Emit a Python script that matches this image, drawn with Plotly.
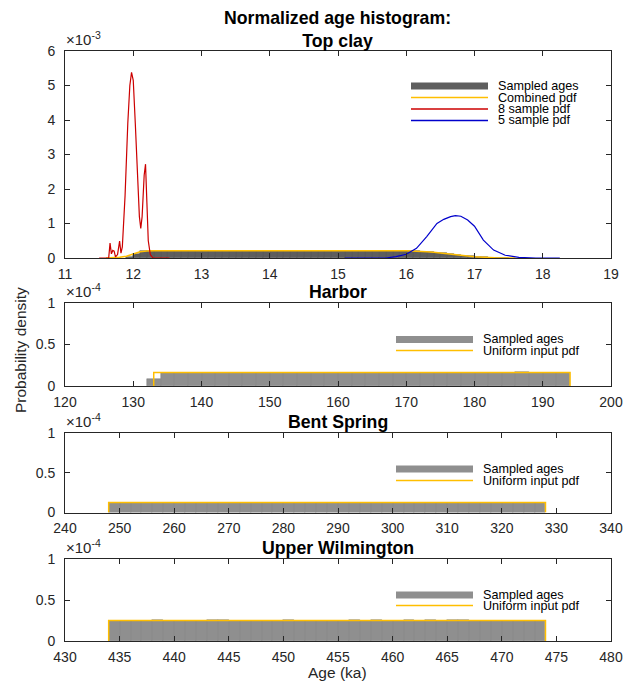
import plotly.graph_objects as go

W, H = 625, 683

# ---------------- Data ----------------
# Top clay: histogram of sampled ages (density, x1e-3 per yr), 0.1 ka bins
tc_bin_start = 11.9
tc_bin_width = 0.1
tc_hist = [0.03, 0.13, 0.19, 0.21,
           0.211, 0.209, 0.212, 0.210, 0.208, 0.211, 0.210, 0.209, 0.212, 0.210,
           0.208, 0.211, 0.210, 0.212, 0.209, 0.210, 0.211, 0.208, 0.210, 0.212,
           0.209, 0.211, 0.210, 0.208, 0.212, 0.210, 0.209, 0.211, 0.210, 0.212,
           0.208, 0.210, 0.211, 0.209, 0.210, 0.212, 0.209,
           0.205, 0.198, 0.188, 0.172, 0.153, 0.133, 0.113, 0.092, 0.070, 0.050,
           0.032, 0.020, 0.011, 0.006, 0.003]

tc_comb_x = [11.60, 11.70, 11.80, 11.90, 12.00, 12.10, 12.20, 12.30, 16.00, 16.10, 16.20,
             16.30, 16.40, 16.50, 16.60, 16.70, 16.80, 16.90, 17.00, 17.10, 17.20, 17.30,
             17.40, 17.60]
tc_comb_y = [0.0, 0.005, 0.02, 0.05, 0.12, 0.18, 0.205, 0.21, 0.21, 0.205, 0.195,
             0.18, 0.165, 0.148, 0.128, 0.105, 0.082, 0.060, 0.038, 0.022, 0.012, 0.006,
             0.003, 0.0]

tc_red_x = [11.50, 11.64, 11.66, 11.68, 11.70, 11.72, 11.74, 11.77, 11.80, 11.82, 11.84,
            11.88, 11.92, 11.95, 11.975, 12.00, 12.03, 12.06, 12.09, 12.11, 12.13, 12.16,
            12.18, 12.20, 12.22, 12.25, 12.29, 12.53]
tc_red_y = [0.0, 0.0, 0.43, 0.12, 0.22, 0.20, 0.03, 0.10, 0.49, 0.14, 0.32,
            1.8, 3.9, 5.0, 5.38, 5.15, 3.9, 2.4, 1.2, 0.86, 1.2, 2.4,
            2.72, 1.6, 0.5, 0.1, 0.0, 0.0]

tc_blue_x = [15.10, 15.70, 15.85, 16.00, 16.15, 16.30, 16.45, 16.55, 16.65, 16.72, 16.80,
             16.90, 17.00, 17.13, 17.28, 17.45, 17.65, 17.90, 18.25]
tc_blue_y = [0.0, 0.0, 0.04, 0.11, 0.28, 0.62, 1.0, 1.12, 1.20, 1.23, 1.21,
             1.10, 0.92, 0.52, 0.23, 0.08, 0.02, 0.0, 0.0]

# Harbor (x1e-4), 2 ka bins
hb_bin_start = 132
hb_bin_width = 2
hb_hist = [0.08, 0.160, 0.158, 0.161, 0.159, 0.160, 0.162, 0.158, 0.160, 0.161,
           0.159, 0.160, 0.158, 0.161, 0.160, 0.159, 0.162, 0.160, 0.158, 0.161,
           0.160, 0.159, 0.161, 0.160, 0.158, 0.160, 0.161, 0.166, 0.159, 0.160, 0.161]
hb_pdf_x = [133, 133, 194, 194]
hb_pdf_y = [0, 0.164, 0.164, 0]

# Bent Spring (x1e-4), 2 ka bins
bs_bin_start = 248
bs_bin_width = 2
bs_hist = [0.124, 0.123, 0.124, 0.124, 0.122, 0.124, 0.124, 0.123, 0.124, 0.124,
           0.123, 0.124, 0.124, 0.122, 0.124, 0.123, 0.124, 0.124, 0.123, 0.124,
           0.124, 0.124, 0.123, 0.124, 0.124, 0.122, 0.124, 0.123, 0.124, 0.124,
           0.123, 0.124, 0.124, 0.123, 0.124, 0.122, 0.124, 0.124, 0.123, 0.124]
bs_pdf_x = [248, 248, 328, 328]
bs_pdf_y = [0, 0.125, 0.125, 0]

# Upper Wilmington (x1e-4), 1 ka bins
uw_bin_start = 434
uw_bin_width = 1
uw_hist = [0.250, 0.248, 0.249, 0.247, 0.251, 0.249, 0.250, 0.248, 0.249, 0.258,
           0.259, 0.250, 0.245, 0.249, 0.250, 0.248, 0.251, 0.249, 0.247, 0.250,
           0.249, 0.250, 0.256, 0.249, 0.251, 0.248, 0.250, 0.258, 0.249, 0.255,
           0.250, 0.256, 0.251, 0.248, 0.250, 0.249, 0.247, 0.250, 0.249, 0.250]
uw_pdf_x = [434, 434, 474, 474]
uw_pdf_y = [0, 0.25, 0.25, 0]

titles = ["Normalized age histogram:<br>Top clay", "Harbor", "Bent Spring", "Upper Wilmington"]
x_ranges = [(11, 19), (120, 200), (240, 340), (430, 480)]
x_dticks = [1, 10, 10, 5]
top_y_ticks = [0, 1, 2, 3, 4, 5, 6]
low_y_ticks = [0, 0.5, 1]

# ---------------- Styling ----------------
AX = '#262626'
ORANGE = '#FFBE00'
RED = '#CC0000'
BLUE = '#0000CC'
DARK_BAR = '#5e5e5e'
DARK_EDGE = '#474747'
LIGHT_BAR = '#8f8f8f'
LIGHT_EDGE = '#7d7d7d'
FONT = 'Liberation Sans'

def px(x):
    return x / W

def py(y):
    return 1 - y / H

panels_px = [(51, 258), (303, 386), (433, 512.5), (559, 641)]
xdom = [px(65), px(611)]

fig = go.Figure()

def centers(start, width, n):
    return [start + width * (i + 0.5) for i in range(n)]

# Top clay
fig.add_trace(go.Bar(x=centers(tc_bin_start, tc_bin_width, len(tc_hist)),
                     y=[v * 1e-3 for v in tc_hist], width=tc_bin_width,
                     marker=dict(color=DARK_BAR, line=dict(color=DARK_EDGE, width=0.5)),
                     xaxis='x', yaxis='y'))
fig.add_trace(go.Scatter(x=tc_comb_x, y=[v * 1e-3 for v in tc_comb_y], mode='lines',
                         line=dict(color=ORANGE, width=1.5), xaxis='x', yaxis='y'))
fig.add_trace(go.Scatter(x=tc_red_x, y=[v * 1e-3 for v in tc_red_y], mode='lines',
                         line=dict(color=RED, width=1.2), xaxis='x', yaxis='y'))
fig.add_trace(go.Scatter(x=tc_blue_x, y=[v * 1e-3 for v in tc_blue_y], mode='lines',
                         line=dict(color=BLUE, width=1.2), xaxis='x', yaxis='y'))

lower = [(hb_bin_start, hb_bin_width, hb_hist, hb_pdf_x, hb_pdf_y),
         (bs_bin_start, bs_bin_width, bs_hist, bs_pdf_x, bs_pdf_y),
         (uw_bin_start, uw_bin_width, uw_hist, uw_pdf_x, uw_pdf_y)]
for i, (bstart, bw, hist, pdfx, pdfy) in enumerate(lower, start=2):
    fig.add_trace(go.Bar(x=centers(bstart, bw, len(hist)), y=[v * 1e-4 for v in hist], width=bw,
                         marker=dict(color=LIGHT_BAR, line=dict(color=LIGHT_EDGE, width=0.5)),
                         xaxis='x%d' % i, yaxis='y%d' % i))
    fig.add_trace(go.Scatter(x=pdfx, y=[v * 1e-4 for v in pdfy], mode='lines',
                             line=dict(color=ORANGE, width=1.5),
                             xaxis='x%d' % i, yaxis='y%d' % i))

axis_common = dict(showline=True, linecolor=AX, linewidth=1, mirror='ticks', ticks='inside',
                   ticklen=5, tickcolor=AX, tickwidth=1, showgrid=False, zeroline=False,
                   automargin=False, ticklabeloverflow='allow',
                   tickfont=dict(family=FONT, size=14, color=AX))

layout = dict(template='none', width=W, height=H, margin=dict(l=0, r=0, t=0, b=0, pad=0),
              showlegend=False, plot_bgcolor='white', paper_bgcolor='white',
              barmode='overlay', bargap=0)

for k in range(4):
    sfx = '' if k == 0 else str(k + 1)
    top, bot = panels_px[k]
    xa = dict(axis_common, domain=xdom, range=list(x_ranges[k]), dtick=x_dticks[k], tick0=0,
              anchor='y' + sfx, ticklabelstandoff=3)
    if k == 0:
        yt = top_y_ticks
        scale = 1e-3
    else:
        yt = low_y_ticks
        scale = 1e-4
    ya = dict(axis_common, domain=[py(bot), py(top)], range=[0, yt[-1] * scale],
              tickvals=[v * scale for v in yt], ticktext=[('%g' % v) for v in yt],
              anchor='x' + sfx, ticklabelstandoff=6)
    layout['xaxis' + sfx] = xa
    layout['yaxis' + sfx] = ya

fig.update_layout(**layout)

annotations = []
shapes = []

# Titles
title_pos = [None, 292, 422, 548]
annotations.append(dict(x=px(338), y=py(29), xref='paper', yref='paper', showarrow=False,
                        text='<b>Normalized age histogram:</b><br><b>Top clay</b>',
                        font=dict(family=FONT, size=17.7, color='black'), xanchor='center',
                        yanchor='middle'))
for k in range(1, 4):
    annotations.append(dict(x=px(338), y=py(title_pos[k]), xref='paper', yref='paper',
                            showarrow=False, text='<b>%s</b>' % titles[k],
                            font=dict(family=FONT, size=17.7, color='black'),
                            xanchor='center', yanchor='middle'))

# Exponent labels
for k in range(4):
    top = panels_px[k][0]
    exp = '-3' if k == 0 else '-4'
    annotations.append(dict(x=px(64), y=py(top - 1), xref='paper', yref='paper', showarrow=False,
                            text='\u00d710<sup>%s</sup>' % exp, xanchor='left', yanchor='bottom',
                            font=dict(family=FONT, size=15, color=AX)))

# Axis labels
annotations.append(dict(x=px(338), y=py(672), xref='paper', yref='paper', showarrow=False,
                        text='Age (ka)', font=dict(family=FONT, size=15.5, color=AX),
                        xanchor='center', yanchor='middle'))
annotations.append(dict(x=px(20), y=py(350), xref='paper', yref='paper', showarrow=False,
                        text='Probability density', textangle=-90,
                        font=dict(family=FONT, size=15.5, color=AX),
                        xanchor='center', yanchor='middle'))

# Legends (drawn manually to match tight MATLAB spacing)
def legend(x0, x1, xt, rows, labels, kinds):
    for yrow, lab, kind in zip(rows, labels, kinds):
        if kind[0] == 'patch':
            shapes.append(dict(type='rect', xref='paper', yref='paper', x0=px(x0), x1=px(x1),
                               y0=py(yrow + 3.5), y1=py(yrow - 3.5), fillcolor=kind[1],
                               line=dict(width=0)))
        else:
            shapes.append(dict(type='line', xref='paper', yref='paper', x0=px(x0), x1=px(x1),
                               y0=py(yrow), y1=py(yrow), line=dict(color=kind[1], width=1.5)))
        annotations.append(dict(x=px(xt), y=py(yrow), xref='paper', yref='paper', showarrow=False,
                                text=lab, xanchor='left', yanchor='middle',
                                font=dict(family=FONT, size=12.6, color='black')))

legend(411, 488, 496, [86, 97.5, 109, 120.5],
       ['Sampled ages', 'Combined pdf', '8 sample pdf', '5 sample pdf'],
       [('patch', DARK_BAR), ('line', ORANGE), ('line', RED), ('line', BLUE)])
for rows in ([339.5, 350.5], [469, 480.5], [595, 605.5]):
    legend(396, 473, 480.5, rows, ['Sampled ages', 'Uniform input pdf'],
           [('patch', LIGHT_BAR), ('line', ORANGE)])

fig.update_layout(annotations=annotations, shapes=shapes)
# remove the default 8px page margin so the 625x683 figure fills the window exactly
fig.write_html('out.html', config={'displayModeBar': False},
               post_script="document.body.style.margin='0px';")
